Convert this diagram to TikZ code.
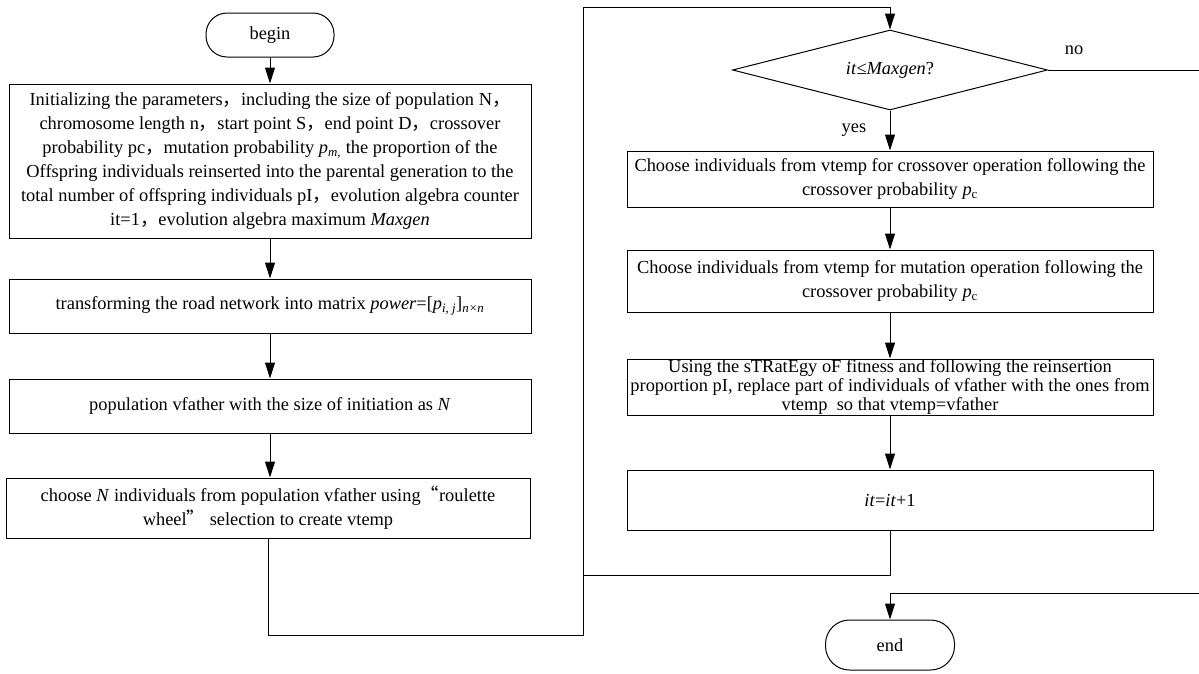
\documentclass[tikz,border=0pt]{standalone}
\usepackage{fontspec}
\setmainfont{Liberation Serif}
\newfontfamily\cjk{Noto Sans CJK SC}
\usetikzlibrary{shapes.geometric,arrows.meta}
\newcommand{\zc}{{\cjk ，}}
\begin{document}
\begin{tikzpicture}[x=1pt,y=-1pt,
  box/.style={draw, line width=1pt, align=center, inner sep=0pt, font=\fontsize{18.4}{24}\selectfont},
  term/.style={draw, line width=1pt, rounded corners=21pt, minimum width=128pt, minimum height=44pt, inner sep=0pt, font=\fontsize{18.4}{20}\selectfont},
  lbl/.style={font=\fontsize{18.4}{20}\selectfont, inner sep=0pt},
  conn/.style={line width=1pt},
  arr/.style={line width=1pt, -{Triangle[length=16pt,width=10pt]}}]
\useasboundingbox (0,0) rectangle (1199,673);

\node[term] (begin) at (270,35) {begin};
\node[box, minimum width=522pt, minimum height=154pt] (init) at (270,161) {Initializing the parameters\zc including the size of population N\zc\\
chromosome length n\zc start point S\zc end point D\zc crossover\\
probability pc\zc mutation probability \textit{p\textsubscript{m,}} the proportion of the\\
Offspring individuals reinserted into the parental generation to the\\
total number of offspring individuals pI\zc evolution algebra counter\\
it=1\zc evolution algebra maximum \textit{Maxgen}};
\node[box, minimum width=522pt, minimum height=54pt] (trans) at (270,306) {transforming the road network into matrix \textit{power}=[\textit{p}\textsubscript{\textit{i, j}}]\textsubscript{\textit{n×n}}};
\node[box, minimum width=522pt, minimum height=54pt] (pop) at (270,406) {population vfather with the size of initiation as \textit{N}};
\node[box, minimum width=524pt, minimum height=60pt] (choose) at (268,508) {choose \textit{N} individuals from population vfather using{\cjk “}roulette\\ wheel{\cjk ”} selection to create vtemp};

\node[diamond, draw, line width=1pt, minimum width=315pt, minimum height=80pt, aspect=3.9, inner sep=0pt, font=\fontsize{18.4}{20}\selectfont] (dia) at (890,70) {\textit{it}≤\textit{Maxgen}?};
\node[box, minimum width=526pt, minimum height=56pt] (cross) at (890,179) {Choose individuals from vtemp for crossover operation following the\\ crossover probability \textit{p}\textsubscript{c}};
\node[box, minimum width=526pt, minimum height=62pt] (mut) at (890,281) {Choose individuals from vtemp for mutation operation following the\\ crossover probability \textit{p}\textsubscript{c}};
\node[box, minimum width=526pt, minimum height=56pt, font=\fontsize{18.4}{19}\selectfont] (strat) at (890,387) {Using the sTRatEgy oF fitness and following the reinsertion\\ proportion pI, replace part of individuals of vfather with the ones from\\ vtemp\ \ so that vtemp=vfather};
\node[box, minimum width=526pt, minimum height=60pt] (inc) at (890,500) {\textit{it}=\textit{it}+1};
\node[term, minimum width=129pt, minimum height=50pt, rounded corners=24pt] (end) at (890,645) {end};

\node[lbl] (no) at (1074,50) {no};
\node[lbl] (yes) at (854,130) {yes};

\coordinate (bl) at (583,635);
\coordinate (tl) at (583,7);
\coordinate (jn) at (583,575);
\coordinate (rt) at (1201,70);
\coordinate (rb) at (1201,593);

\draw[arr] (begin) -- (init);
\draw[arr] (init) -- (trans);
\draw[arr] (trans) -- (pop);
\draw[arr] (pop.south) -- (pop.south |- choose.north);
\draw[arr] (choose.south) |- (bl) -- (tl) -| (dia.north);
\draw[conn] (inc.south) |- (jn);
\draw[arr] (dia.south) -- (cross.north);
\draw[arr] (cross) -- (mut);
\draw[arr] (mut) -- (strat);
\draw[arr] (strat) -- (inc);
\draw[arr] (dia.east) -- (rt) -- (rb) -| (end.north);
\end{tikzpicture}
\end{document}
